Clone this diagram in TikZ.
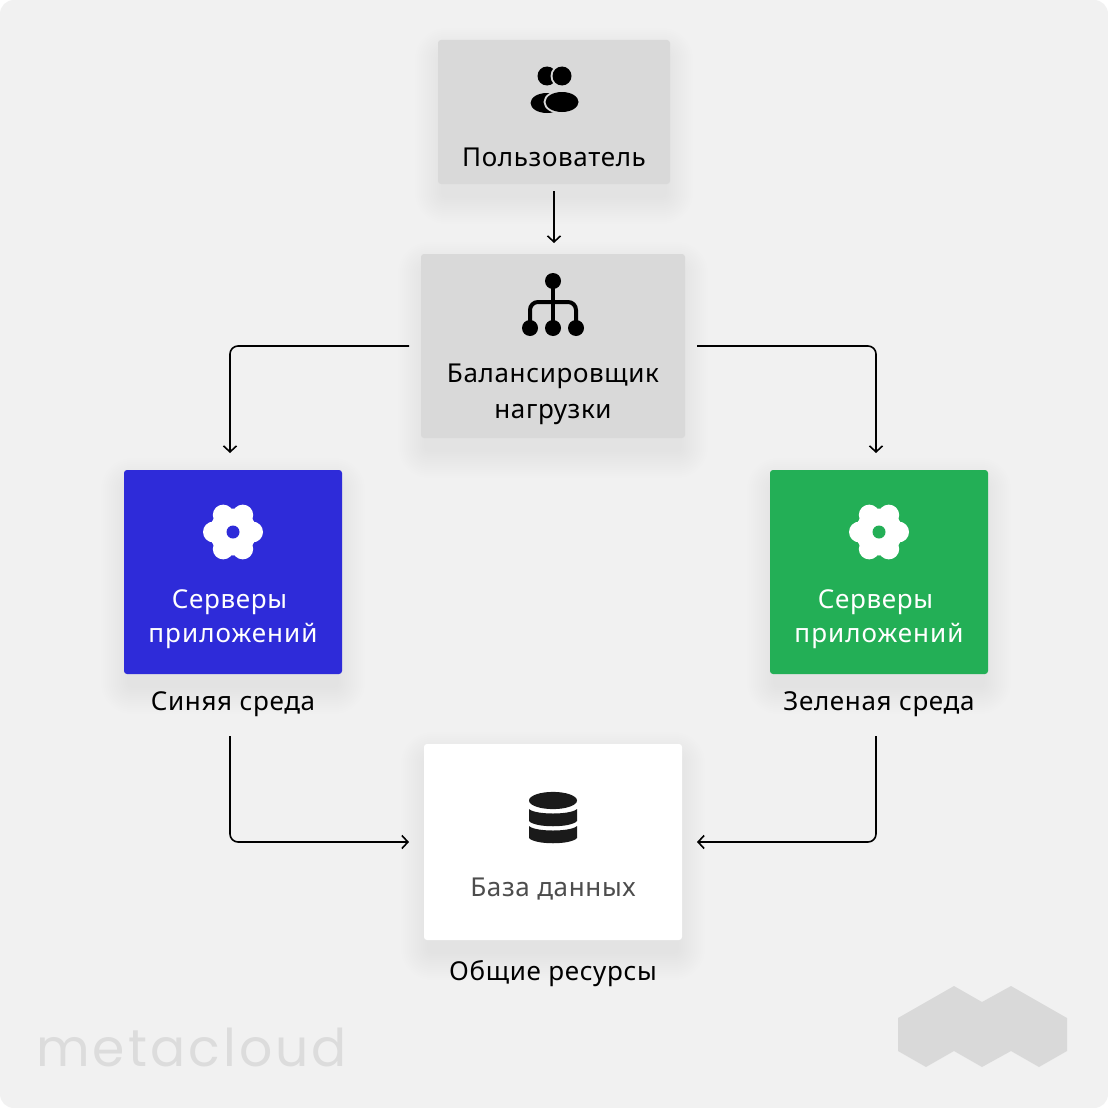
\documentclass[tikz,border=0pt]{standalone}
\usepackage{fontspec}
\setmainfont[LetterSpace=2.5]{Noto Sans}
\newfontfamily\widefont[LetterSpace=4]{Noto Sans}
\newfontfamily\logofont[LetterSpace=6]{Poppins}
\usetikzlibrary{arrows.meta}
\definecolor{bgc}{HTML}{F1F1F1}
\definecolor{greyc}{HTML}{D9D9D9}
\definecolor{bluec}{HTML}{2E2BD9}
\definecolor{greenc}{HTML}{23AF56}
\definecolor{dbink}{HTML}{1A1A1A}
\definecolor{dbtext}{HTML}{4D4D4D}
\definecolor{logotext}{HTML}{DCDCDC}
\newcommand{\softshadow}[4]{%
  \foreach \g in {28,26,...,2}{%
    \fill[black,opacity=0.0038,rounded corners=\g*1pt+3pt]
      (#1-\g+5,#2-\g+16) rectangle (#3+\g-5,#4+\g+12);
  }%
}
\newcommand{\flowericon}[3]{%
  \begin{scope}[shift={(#1,#2)}]
    \fill[white] (0,0) circle[radius=23.5];
    \foreach \a in {0,60,...,300}{\fill[white] (\a:19.6) circle[radius=10.4];}
    \fill[#3] (0,0) circle[radius=6.5];
  \end{scope}%
}
\tikzset{
  x=1pt,y=-1pt,
  boxnode/.style={rectangle,rounded corners=3pt,inner sep=0pt,outer sep=0pt,draw=none},
  txt/.style={font=\fontsize{26}{30}\selectfont,anchor=base,inner sep=0pt,align=center},
  link/.style={line width=1.6pt,rounded corners=8pt,-{Straight Barb[length=6pt,width=13pt,line width=1.6pt]}},
}
\begin{document}
\begin{tikzpicture}
\useasboundingbox (0,0) rectangle (1108,1108);
\fill[white] (0,0) rectangle (1108,1108);
\fill[bgc,rounded corners=14pt] (0,0) rectangle (1108,1108);

% logo
\fill[greyc] (898,1018) -- (954,986) -- (982,1002) -- (1011,986) -- (1067,1018) -- (1067,1051)
  -- (1039,1067) -- (1011,1051) -- (982,1067) -- (954,1051) -- (926,1067) -- (898,1051) -- cycle;
\node[anchor=base west,inner sep=0pt,text=logotext,font=\fontsize{52}{60}\selectfont\logofont] (logo) at (36,1066) {metacloud};

% shadows
\softshadow{438}{40}{670}{184}
\softshadow{421}{254}{685}{438}
\softshadow{124}{470}{342}{674}
\softshadow{770}{470}{988}{674}
\softshadow{424}{744}{682}{940}

% boxes
\node[boxnode,fill=greyc,minimum width=232pt,minimum height=144pt] (user) at (554,112) {};
\node[boxnode,fill=greyc,minimum width=264pt,minimum height=184pt] (lb) at (553,346) {};
\node[boxnode,fill=bluec,minimum width=218pt,minimum height=204pt] (blue) at (233,572) {};
\node[boxnode,fill=greenc,minimum width=218pt,minimum height=204pt] (green) at (879,572) {};
\node[boxnode,fill=white,minimum width=258pt,minimum height=196pt] (db) at (553,842) {};

% user icon
\fill[black] (547,76) circle[radius=9.5];
\fill[greyc] (562,76) circle[radius=11.5];
\fill[black] (562,76) circle[radius=9.5];
\fill[black] (547,103) ellipse[x radius=16.5,y radius=10];
\fill[greyc] (562,102) ellipse[x radius=18.5,y radius=12];
\fill[black] (562,102) ellipse[x radius=16.5,y radius=10];

% balancer icon
\draw[black,line width=4pt] (553,281) -- (553,328);
\draw[black,line width=4pt,rounded corners=8pt] (530,328) -- (530,302) -- (576,302) -- (576,328);
\foreach \p/\q in {553/281,530/328,553/328,576/328}{\fill[black] (\p,\q) circle[radius=8];}

% flowers
\flowericon{233}{532}{bluec}
\flowericon{879}{532}{greenc}

% database icon
\fill[dbink] (553,800.5) ellipse[x radius=24,y radius=8.6];
\fill[dbink] (529,809) .. controls (535,815) and (571,815) .. (577,809) -- (577,821)
  .. controls (571,828) and (535,828) .. (529,821) -- cycle;
\fill[dbink] (529,826) .. controls (535,832) and (571,832) .. (577,826) -- (577,838)
  .. controls (571,845) and (535,845) .. (529,838) -- cycle;

% texts
\node[txt] (t1) at (554,166) {Пользователь};
\node[txt] (t2a) at (553,382) {Балансировщик};
\node[txt] (t2b) at (553,418) {нагрузки};
\node[txt,text=white] (t3a) at (229.5,608) {Серверы};
\node[txt,text=white] (t3b) at (233,642) {\widefont приложений};
\node[txt,text=white] (t4a) at (875.5,608) {Серверы};
\node[txt,text=white] (t4b) at (879,642) {\widefont приложений};
\node[txt] (s1) at (233,710) {Синяя среда};
\node[txt] (s2) at (879,710) {Зеленая среда};
\node[txt,text=dbtext] (t5) at (553,896) {База данных};
\node[txt] (s3) at (553,980) {Общие ресурсы};

% connector ends
\coordinate (a0) at (554,191); \coordinate (a1) at (554,243);
\coordinate (b0) at (409,346); \coordinate (b1) at (230,453);
\coordinate (c0) at (697,346); \coordinate (c1) at (876,453);
\coordinate (d0) at (230,736); \coordinate (d1) at (409,842);
\coordinate (e0) at (876,736); \coordinate (e1) at (697,842);
\draw[link] (a0) -- (a1);
\draw[link] (b0) -| (b1);
\draw[link] (c0) -| (c1);
\draw[link] (d0) |- (d1);
\draw[link] (e0) |- (e1);
\end{tikzpicture}
\end{document}
